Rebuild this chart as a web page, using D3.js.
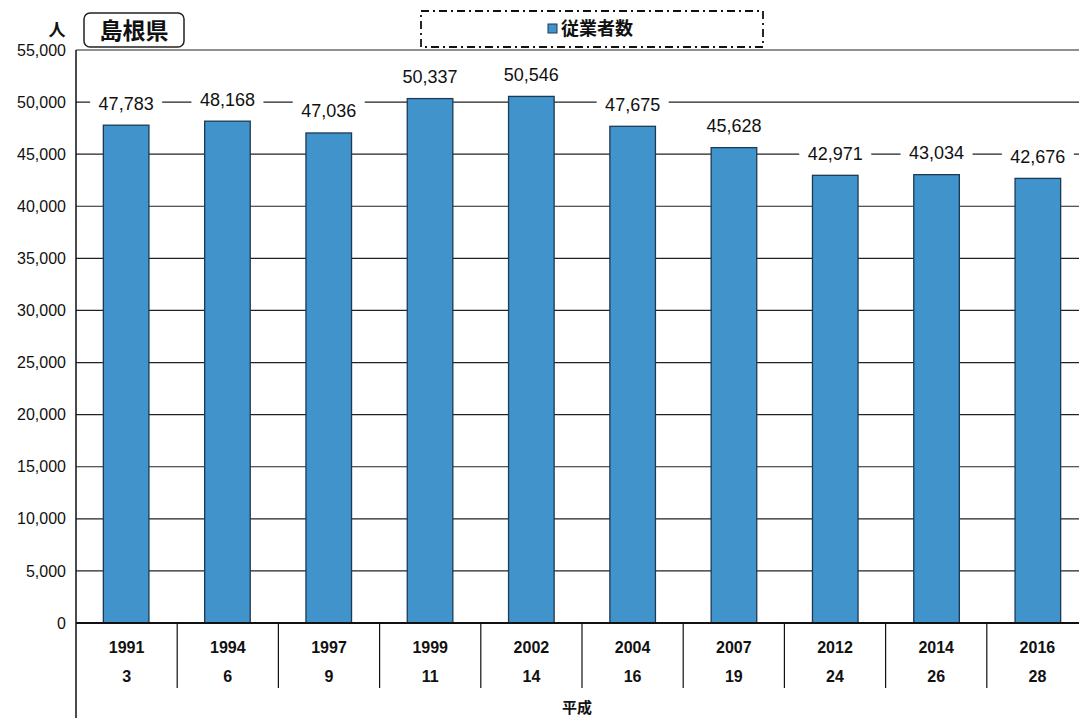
<!DOCTYPE html>
<html>
<head>
<meta charset="utf-8">
<script src="https://cdn.jsdelivr.net/npm/d3@7"></script>
<style>
  body { margin: 0; background: #fff; }
  svg text { font-family: "Liberation Sans", "Noto Sans CJK JP", sans-serif; fill: #111; }
  .jp { font-family: "Noto Sans CJK JP", sans-serif; }
</style>
</head>
<body>
<svg id="chart" width="1079" height="722"></svg>
<script>
// 従業者数 (島根県)
const years = ['1991', '1994', '1997', '1999', '2002', '2004', '2007', '2012', '2014', '2016'];
const heisei = ['3', '6', '9', '11', '14', '16', '19', '24', '26', '28'];
const workers = [47783, 48168, 47036, 50337, 50546, 47675, 45628, 42971, 43034, 42676];
const yTicks = [0, 5000, 10000, 15000, 20000, 25000, 30000, 35000, 40000, 45000, 50000, 55000];

const svg = d3.select('#chart');
const plotL = 76, plotR = 1088, plotT = 50, plotB = 623;

const x = d3.scaleBand().domain(years).range([plotL, plotR]).paddingInner(0.55).paddingOuter(0.27);
const xb = d3.scaleBand().domain(years).range([plotL, plotR]);
const y = d3.scaleLinear().domain([0, 55000]).range([plotB, plotT]);

// gridlines
svg.append('g').selectAll('line')
  .data(yTicks)
  .enter().append('line')
  .attr('x1', plotL).attr('x2', 1079)
  .attr('y1', (d) => y(d)).attr('y2', (d) => y(d))
  .attr('stroke', '#222').attr('stroke-width', 1.2);

// y tick labels
svg.append('g').selectAll('text')
  .data(yTicks)
  .enter().append('text')
  .attr('x', 66).attr('y', (d) => y(d))
  .attr('dy', '0.35em')
  .attr('text-anchor', 'end')
  .style('font-size', '16px')
  .text((d) => d3.format(',')(d));

// bars
svg.append('g').selectAll('rect')
  .data(workers)
  .enter().append('rect')
  .attr('x', (d, i) => x(years[i]))
  .attr('width', x.bandwidth())
  .attr('y', (d) => y(d))
  .attr('height', (d) => y(0) - y(d))
  .attr('fill', '#4193cb')
  .attr('stroke', '#1d3a55').attr('stroke-width', 1.3);

// value labels with white backing
const lab = svg.append('g').selectAll('g')
  .data(workers)
  .enter().append('g')
  .attr('transform', (d, i) => `translate(${x(years[i]) + x.bandwidth() / 2},${y(d) - 22})`);
lab.append('rect')
  .attr('x', -36).attr('y', -11).attr('width', 72).attr('height', 22)
  .attr('fill', '#fff');
lab.append('text')
  .attr('text-anchor', 'middle').attr('dy', '0.36em')
  .style('font-size', '18px')
  .text((d) => d3.format(',')(d));

// axes lines
svg.append('line').attr('x1', plotL).attr('x2', plotL).attr('y1', plotT).attr('y2', 718)
  .attr('stroke', '#111').attr('stroke-width', 1.5);
svg.append('line').attr('x1', plotL).attr('x2', 1079).attr('y1', plotB).attr('y2', plotB)
  .attr('stroke', '#111').attr('stroke-width', 2);

// category dividers and two-row labels
svg.append('g').selectAll('line')
  .data(years.slice(1))
  .enter().append('line')
  .attr('x1', (d) => xb(d)).attr('x2', (d) => xb(d))
  .attr('y1', plotB).attr('y2', 688)
  .attr('stroke', '#111').attr('stroke-width', 1.2);

svg.append('g').selectAll('text')
  .data(years)
  .enter().append('text')
  .attr('x', (d) => xb(d) + xb.bandwidth() / 2).attr('y', 647)
  .attr('dy', '0.35em').attr('text-anchor', 'middle')
  .style('font-size', '16px').style('font-weight', 'bold')
  .text((d) => d);

svg.append('g').selectAll('text')
  .data(heisei)
  .enter().append('text')
  .attr('x', (d, i) => xb(years[i]) + xb.bandwidth() / 2).attr('y', 676)
  .attr('dy', '0.35em').attr('text-anchor', 'middle')
  .style('font-size', '16px').style('font-weight', 'bold')
  .text((d) => d);

svg.append('text').attr('class', 'jp')
  .attr('x', 577).attr('y', 708).attr('dy', '0.35em').attr('text-anchor', 'middle')
  .style('font-size', '15px').style('font-weight', 'bold')
  .text('平成');

// unit and title box
svg.append('text').attr('class', 'jp')
  .attr('x', 57).attr('y', 30).attr('dy', '0.35em').attr('text-anchor', 'middle')
  .style('font-size', '17px').style('font-weight', 'bold')
  .text('人');
svg.append('rect')
  .attr('x', 84).attr('y', 13).attr('width', 100).attr('height', 34).attr('rx', 6)
  .attr('fill', '#fff').attr('stroke', '#222').attr('stroke-width', 1.5);
svg.append('text').attr('class', 'jp')
  .attr('x', 134).attr('y', 31).attr('dy', '0.35em').attr('text-anchor', 'middle')
  .style('font-size', '23px').style('font-weight', 'bold')
  .text('島根県');

// legend
svg.append('rect')
  .attr('x', 421).attr('y', 11).attr('width', 342).attr('height', 36)
  .attr('fill', '#fff').attr('stroke', '#111').attr('stroke-width', 1.8)
  .attr('stroke-dasharray', '8,4,2,4');
svg.append('rect')
  .attr('x', 548).attr('y', 24).attr('width', 9).attr('height', 9)
  .attr('fill', '#4193cb').attr('stroke', '#1d3a55');
svg.append('text').attr('class', 'jp')
  .attr('x', 561).attr('y', 29).attr('dy', '0.35em')
  .style('font-size', '18px').style('font-weight', 'bold')
  .text('従業者数');
</script>
</body>
</html>
